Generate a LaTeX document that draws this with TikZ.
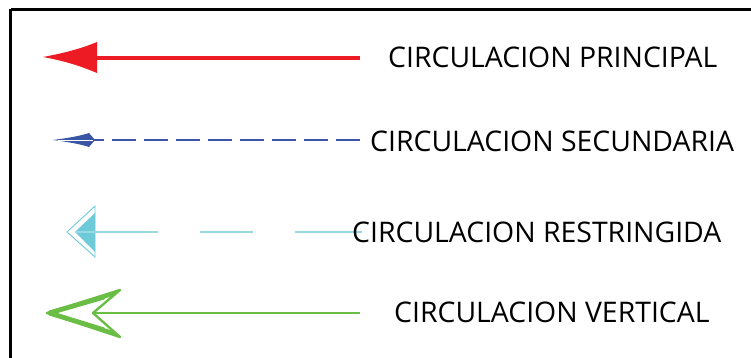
\documentclass[tikz,border=0pt]{standalone}
\usepackage{fontspec}
\setmainfont{Open Sans}
\definecolor{cred}{HTML}{ED1C24}
\definecolor{cblue}{HTML}{3B55A5}
\definecolor{ccyan}{HTML}{6CCAD9}
\definecolor{cgreen}{HTML}{6ABD45}
\begin{document}
\begin{tikzpicture}[x=1pt,y=-1pt,
  lbl/.style={anchor=west,inner sep=0pt,font=\fontsize{28.4}{28.4}\selectfont,text=black}]
\useasboundingbox (0,0) rectangle (751,358);
\draw[line width=3pt] (10.5,9.5) -- (770,9.5);
\draw[line width=3pt] (10.5,9.5) -- (10.5,380);
% red
\coordinate (r1) at (360,58);
\coordinate (r0) at (95,58);
\draw[cred,line width=4pt] (r1) -- (r0);
\fill[cred] (43,57) .. controls (70,52) and (85,47) .. (97,42) -- (97,73) .. controls (85,68) and (70,62) .. (43,57) -- cycle;
\node[lbl] (t1) at (388,57) {CIRCULACION PRINCIPAL};
% blue
\coordinate (b1) at (360,140);
\coordinate (b0) at (93,140);
\draw[cblue,line width=1.3pt,dash pattern=on 24pt off 8pt] (b1) -- (b0);
\draw[cblue,line width=1.3pt] (b0) -- ++(-5,0);
\fill[cblue] (53,140) .. controls (68,138) and (80,136) .. (89,133) -- (95,140) -- (89,147) .. controls (80,144) and (68,142) .. (53,140) -- cycle;
\draw[white,line width=0.5pt] (58,140) -- (93,140);
\node[lbl] (t2) at (370,141) {CIRCULACION SECUNDARIA};
% cyan
\coordinate (c0) at (75,232);
\coordinate (c1) at (158,232);
\coordinate (c2) at (200,232);
\coordinate (c3) at (253,232);
\coordinate (c4) at (295,232);
\coordinate (c5) at (362,232);
\fill[ccyan] (75,232) -- (95,213) -- (95,252) -- cycle;
\draw[ccyan,line width=0.9pt,line join=miter] (67,232) -- (95,206) -- (95,257) -- cycle;
\draw[ccyan!70,line width=1.1pt] (c0) -- (c1) (c2) -- (c3) (c4) -- (c5);
\node[lbl] (t3) at (352,232) {CIRCULACION RESTRINGIDA};
% green
\coordinate (g1) at (360,313);
\coordinate (g0) at (93,313);
\draw[cgreen,line width=1.3pt] (g1) -- (g0);
\draw[cgreen,line width=2.4pt,line join=round] (47,313) -- (120,290) -- (93,313) -- (120,337) -- cycle;
\draw[cgreen,line width=3.5pt,line cap=round] (50,312) -- (114,294) (50,314) -- (114,333);
\draw[cgreen,line width=3pt,line cap=round] (54,312.5) -- (104,298) (54,313.5) -- (104,329);
\node[lbl] (t4) at (394,312) {CIRCULACION VERTICAL};
\end{tikzpicture}
\end{document}
